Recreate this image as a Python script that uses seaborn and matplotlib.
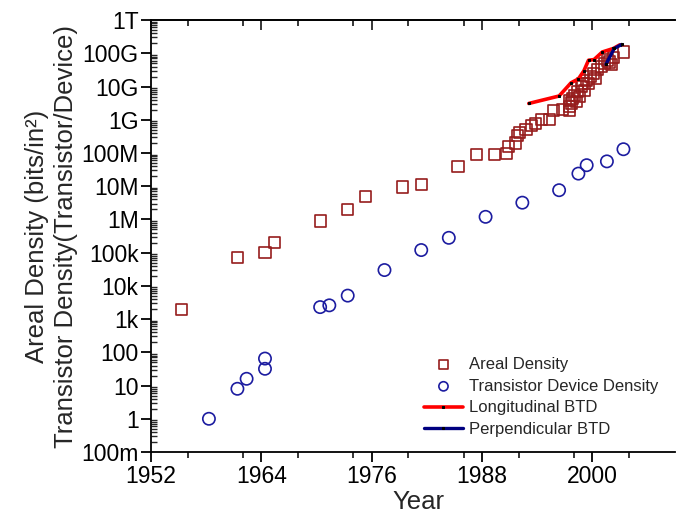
import numpy as np
import pandas as pd
import matplotlib
matplotlib.use("Agg")
import matplotlib.pyplot as plt
import matplotlib.ticker as mticker
import seaborn as sns

# areal density of disks (bits/in^2)
areal_year = [1955.3, 1961.4, 1964.4, 1965.4, 1970.4, 1973.4, 1975.3, 1979.4, 1981.4, 1985.4,
              1987.4, 1989.4, 1990.7, 1990.9, 1991.7, 1991.9, 1992.1, 1992.8, 1993.4, 1993.8,
              1994.5, 1995.4, 1995.8, 1996.8, 1997.5, 1997.5, 1997.5, 1997.7, 1997.9, 1998.1,
              1998.3, 1998.4, 1998.6, 1998.8, 1998.9, 1999.2, 1999.4, 1999.6, 1999.8, 2000.1,
              2000.3, 2000.6, 2001.0, 2001.3, 2001.7, 2001.9, 2002.1, 2002.3, 2003.4]
areal_val = [2e3, 7e4, 1e5, 2e5, 9e5, 2e6, 5e6, 9.5e6, 1.1e7, 4e7,
             9e7, 9e7, 9.5e7, 1.6e8, 2e8, 3.4e8, 4.2e8, 5.1e8, 6.7e8, 7.9e8,
             1e9, 1e9, 1.85e9, 2.1e9, 1.85e9, 2.5e9, 3.9e9, 3.2e9, 4.4e9, 5.5e9,
             3.5e9, 6.9e9, 4.9e9, 1e10, 1.25e10, 7.8e9, 1.55e10, 1.25e10, 1.95e10, 2.5e10,
             1.8e10, 3.2e10, 4e10, 5e10, 6.3e10, 5.5e10, 4.7e10, 7.4e10, 1.1e11]

# transistor device density
trans_year = [1958.3, 1961.4, 1962.4, 1964.4, 1964.4, 1970.4, 1971.4, 1973.4, 1977.4, 1981.4,
              1984.4, 1988.4, 1992.4, 1996.4, 1998.5, 1999.4, 2001.6, 2003.4]
trans_val = [1, 8, 16, 32, 65, 2.3e3, 2.6e3, 5.1e3, 3e4, 1.2e5,
             2.8e5, 1.2e6, 3.2e6, 7.6e6, 2.4e7, 4.3e7, 5.6e7, 1.3e8]

# bit transition density lines
long_year = [1993.1, 1996.4, 1997.7, 1998.5, 1999.1, 1999.6, 2000.2, 2001.1, 2002.3, 2003.0]
long_val = [3.1e9, 5.2e9, 1.3e10, 1.7e10, 3e10, 6.2e10, 6.5e10, 1.1e11, 1.4e11, 1.8e11]
perp_year = [2001.5, 2002.4, 2003.2]
perp_val = [4.7e10, 1.4e11, 1.85e11]

ytick_vals = [1e-1, 1, 10, 100, 1e3, 1e4, 1e5, 1e6, 1e7, 1e8, 1e9, 1e10, 1e11, 1e12]
ytick_labels = ["100m", "1", "10", "100", "1k", "10k", "100k", "1M", "10M", "100M",
                "1G", "10G", "100G", "1T"]
xtick_vals = [1952, 1964, 1976, 1988, 2000]

sns.set_style("ticks")
plt.rcParams["font.family"] = ["Liberation Sans", "DejaVu Sans"]

fig = plt.figure(figsize=(6.76, 5.16), dpi=100)
ax = fig.add_axes([0.2234, 0.124, 0.775, 0.837])

sq = pd.DataFrame({"Year": areal_year, "Density": areal_val})
ci = pd.DataFrame({"Year": trans_year, "Density": trans_val})
lo = pd.DataFrame({"Year": long_year, "Density": long_val})
pe = pd.DataFrame({"Year": perp_year, "Density": perp_val})

sns.scatterplot(data=sq, x="Year", y="Density", ax=ax, marker="s", s=64,
                facecolor="none", edgecolor="#961c1c", linewidth=1.2,
                label="Areal Density", zorder=3)
sns.scatterplot(data=ci, x="Year", y="Density", ax=ax, marker="o", s=78,
                facecolor="none", edgecolor="#1c1ca0", linewidth=1.2,
                label="Transistor Device Density", zorder=3)
sns.lineplot(data=lo, x="Year", y="Density", ax=ax, color="#ff0000", linewidth=2.6,
             marker="s", markersize=2, markerfacecolor="black", markeredgecolor="black",
             estimator=None, sort=False, label="Longitudinal BTD", zorder=4)
sns.lineplot(data=pe, x="Year", y="Density", ax=ax, color="#000080", linewidth=2.4,
             marker="s", markersize=2, markerfacecolor="black", markeredgecolor="black",
             estimator=None, sort=False, label="Perpendicular BTD", zorder=4)

ax.set_yscale("log")
ax.set_ylim(1e-1, 1e12)
ax.set_xlim(1952, 2009)
ax.yaxis.set_major_locator(mticker.FixedLocator(ytick_vals))
ax.yaxis.set_major_formatter(mticker.FixedFormatter(ytick_labels))
ax.yaxis.set_minor_locator(mticker.LogLocator(base=10, subs=np.arange(2, 10), numticks=30))
ax.yaxis.set_minor_formatter(mticker.NullFormatter())
ax.set_xticks(xtick_vals)
ax.xaxis.set_minor_locator(mticker.MultipleLocator(6))

ax.tick_params(axis="both", which="major", direction="out", length=7, width=1.3,
               labelsize=16.5, colors="black", pad=2)
ax.tick_params(axis="x", which="minor", direction="out", length=4, width=1.3)
ax.tick_params(axis="y", which="minor", direction="in", length=4, width=1)
for side in ["left", "bottom", "top"]:
    ax.spines[side].set_linewidth(1.3)
    ax.spines[side].set_color("black")
ax.spines["right"].set_visible(False)

top = ax.secondary_xaxis("top")
top.set_xticks(xtick_vals)
top.xaxis.set_minor_locator(mticker.MultipleLocator(6))
top.tick_params(which="major", direction="in", length=7, width=1.3, labeltop=False)
top.tick_params(which="minor", direction="in", length=4, width=1.3)
top.spines["top"].set_linewidth(1.3)

ax.set_xlabel("Year", fontsize=18.5)
ax.xaxis.set_label_coords(0.51, -0.087)
ax.set_ylabel("Areal Density (bits/in\u00b2)\nTransistor Density(Transistor/Device)",
              fontsize=18.5, labelpad=2, linespacing=1.3)

ax.legend(loc="lower left", bbox_to_anchor=(0.493, 0.0), frameon=False, fontsize=12,
          markerscale=0.75, handlelength=2.3, handletextpad=0.4, labelspacing=0.4)

fig.savefig("out.png", dpi=100)
